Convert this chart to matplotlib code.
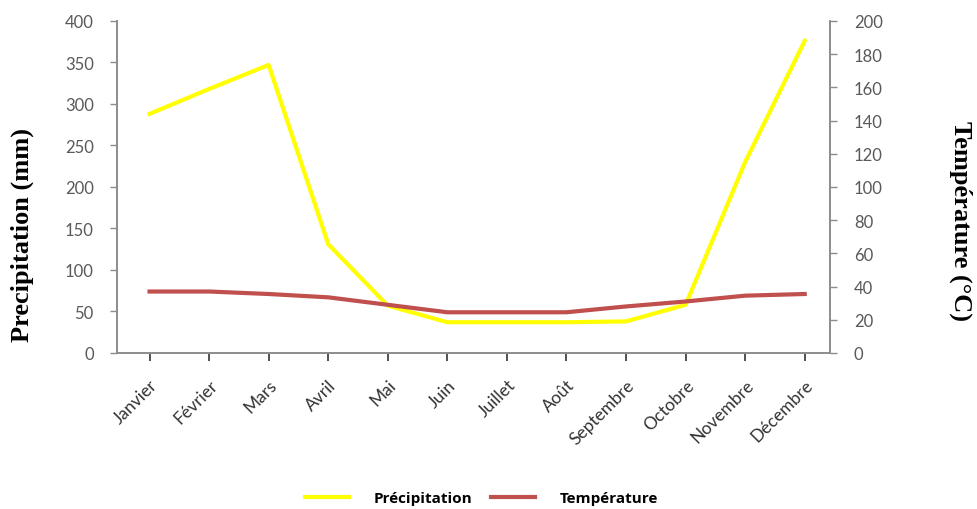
import matplotlib

matplotlib.use("Agg")
import matplotlib.pyplot as plt
from matplotlib.lines import Line2D

mois = ["Janvier", "Février", "Mars", "Avril", "Mai", "Juin", "Juillet",
        "Août", "Septembre", "Octobre", "Novembre", "Décembre"]
precipitation = [288, 318, 347, 131, 57, 37, 37, 37, 38, 58, 230, 376]
temperature = [37, 37, 35.5, 33.5, 29, 24.5, 24.5, 24.5, 28, 31, 34.5, 35.5]

grey = "#8c8c8c"
label_col = "#595959"
tick_font = "Lato"

fig = plt.figure(figsize=(9.78, 5.10), dpi=100)
ax = fig.add_axes([0.12, 0.306, 0.729, 0.651])
ax2 = ax.twinx()

x = range(len(mois))
ax.plot(x, precipitation, color="#ffff00", lw=3, solid_joinstyle="round")
ax2.plot(x, temperature, color="#c0504d", lw=3, solid_joinstyle="round")

ax.set_xlim(-0.54, 11.43)
ax.set_ylim(0, 400)
ax2.set_ylim(0, 200)

ax.set_yticks(range(0, 401, 50))
ax2.set_yticks(range(0, 201, 20))
ax.set_xticks(list(x))
ax.set_xticklabels(mois, rotation=45, ha="right", rotation_mode="anchor",
                   fontsize=12.5, color="#404040", family=tick_font)
for lab in ax.get_yticklabels() + ax2.get_yticklabels():
    lab.set_family(tick_font)

for a in (ax, ax2):
    a.spines["top"].set_visible(False)
    for s in ("left", "right", "bottom"):
        a.spines[s].set_color(grey)
        a.spines[s].set_linewidth(1.2)
    a.tick_params(axis="y", colors=grey, labelcolor=label_col, labelsize=12,
                  length=5, width=1, pad=12)
ax.tick_params(axis="x", colors="#333333", length=6, width=1.2, pad=11)

# axis titles placed directly in figure coords
fig.text(22 / 978, 1 - 235 / 510, "Precipitation (mm)", family="Liberation Serif",
         fontweight="bold", fontsize=19, rotation=90, ha="center", va="center")
fig.text(961 / 978, 1 - 221 / 510, "Température (°C)", family="Liberation Serif",
         fontweight="bold", fontsize=19, rotation=-90, ha="center", va="center")

handles = [Line2D([], [], color="#ffff00", lw=3),
           Line2D([], [], color="#c0504d", lw=3)]
fig.legend(handles, ["Précipitation", "Température"], loc="lower center",
           bbox_to_anchor=(0.492, -0.02), ncol=2, frameon=False, handlelength=2.9,
           columnspacing=1.2, handletextpad=1.6,
           prop={"weight": "bold", "size": 11, "family": "Open Sans"})

fig.savefig("out.png", dpi=100)
